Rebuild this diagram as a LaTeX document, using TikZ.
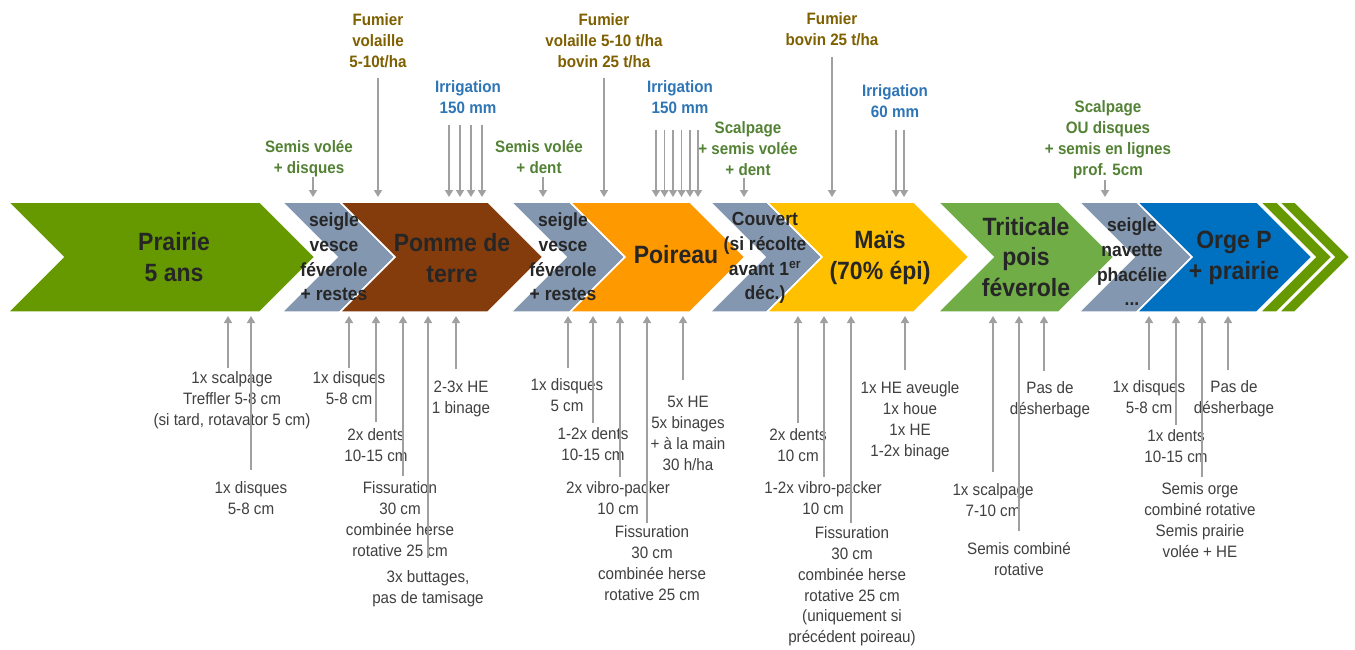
\documentclass[tikz,border=0pt]{standalone}
\usepackage{fontspec}
\setmainfont{Liberation Sans}[FakeStretch=0.92]
\usetikzlibrary{arrows.meta}
\definecolor{cPra}{HTML}{669900}
\definecolor{cGry}{HTML}{8497B0}
\definecolor{cBrn}{HTML}{843C0C}
\definecolor{cOrg}{HTML}{FF9900}
\definecolor{cYel}{HTML}{FFC000}
\definecolor{cTri}{HTML}{70AD47}
\definecolor{cBlu}{HTML}{0070C0}
\definecolor{cFum}{HTML}{7F6000}
\definecolor{cIrr}{HTML}{2E75B6}
\definecolor{cSem}{HTML}{548235}
\definecolor{cTxt}{HTML}{262626}
\definecolor{cLab}{HTML}{404040}
\definecolor{cArr}{HTML}{A0A0A0}
\tikzset{
  arr/.style={draw=cArr, line width=1.5pt, -{Triangle[width=8pt,length=7pt]}},
  lab/.style={align=center, inner sep=0pt, anchor=north, text=cLab, font=\fontsize{16.5}{20.8}\selectfont},
  toplab/.style={align=center, inner sep=0pt, anchor=north, font=\bfseries\fontsize{16.5}{20.8}\selectfont},
  big/.style={align=center, inner sep=0pt, text=cTxt, font=\bfseries\fontsize{25}{31}\selectfont},
  mid/.style={align=center, inner sep=0pt, text=cTxt, font=\bfseries\fontsize{19}{24.7}\selectfont},
  chevbox/.style={draw=white, line width=1.5pt}
}
\newcommand\chev[3]{\path[chevbox, fill=#3] (#1,202) -- (#2,202) -- ({#2+55},257) -- (#2,312) -- (#1,312) -- ({#1+55},257) -- cycle;}
\newcommand\dnarr[3]{\coordinate (#1s) at (#2,#3); \coordinate (#1e) at (#2,197); \draw[arr] (#1s) -- (#1e);}
\newcommand\uparr[3]{\coordinate (#1s) at (#2,#3); \coordinate (#1e) at (#2,316); \draw[arr] (#1s) -- (#1e);}
\begin{document}
\begin{tikzpicture}[x=1pt,y=-1pt]
\path[fill=white] (0,0) rectangle (1355,650);
\useasboundingbox (0,0) rectangle (1355,650);
% chevrons
\chev{8}{260}{cPra}
\chev{282}{340}{cGry}
\chev{340}{488}{cBrn}
\chev{511}{570}{cGry}
\chev{570}{690}{cOrg}
\chev{710}{767}{cGry}
\chev{767}{914}{cYel}
\chev{938}{1059}{cTri}
\chev{1079}{1137}{cGry}
\chev{1137}{1257}{cBlu}
\chev{1260}{1277}{cPra}
\chev{1279}{1295}{cPra}
% chevron texts
\node[big] (pra) at (174,257.5) {Prairie\\5 ans};
\node[mid] (cv1) at (334,257) {seigle\\vesce\\féverole\\+ restes};
\node[big] (pdt) at (452,258) {Pomme de\\terre};
\node[mid] (cv2) at (563,257) {seigle\\vesce\\féverole\\+ restes};
\node[big] (poi) at (676,255) {Poireau};
\node[mid] (cv3) at (765,258) {Couvert\\(si récolte\\avant 1\textsuperscript{er}\\déc.)};
\node[big] (mai) at (880,258) {Maïs\\(70\% épi)};
\node[big, font=\bfseries\fontsize{25}{30.5}\selectfont] (tri) at (1026,257) {Triticale\\pois\\féverole};
\node[mid] (cv4) at (1132,262) {seigle\\navette\\phacélie\\...};
\node[big] (org) at (1234,258) {Orge P\\+ prairie};
% top labels
\node[toplab, text=cFum] (t1) at (378,11) {\strut Fumier\\volaille\\5-10t/ha};
\node[toplab, text=cIrr] (t2) at (468,78) {\strut Irrigation\\150 mm};
\node[toplab, text=cSem] (t3) at (309,138) {\strut Semis volée\\+ disques};
\node[toplab, text=cSem] (t4) at (539,138) {\strut Semis volée\\+ dent};
\node[toplab, text=cFum] (t5) at (604,11) {\strut Fumier\\volaille 5-10 t/ha\\bovin 25 t/ha};
\node[toplab, text=cIrr] (t6) at (680,78) {\strut Irrigation\\150 mm};
\node[toplab, text=cSem] (t7) at (748,119) {\strut Scalpage\\+ semis volée\\+ dent};
\node[toplab, text=cFum] (t8) at (832,10) {\strut Fumier\\bovin 25 t/ha};
\node[toplab, text=cIrr] (t9) at (895,82) {\strut Irrigation\\60 mm};
\node[toplab, text=cSem] (t10) at (1108,98) {\strut Scalpage\\OU disques\\+ semis en lignes\\prof. 5cm};
% top arrows
\dnarr{a1}{313}{177}
\dnarr{a2}{378}{78}
\dnarr{a3}{449}{125}
\dnarr{a4}{460}{125}
\dnarr{a5}{471}{125}
\dnarr{a6}{482}{125}
\dnarr{a7}{543}{177}
\dnarr{a8}{604}{78}
\dnarr{a9}{656}{130}
\dnarr{a10}{664.5}{130}
\dnarr{a11}{673}{130}
\dnarr{a12}{681.5}{130}
\dnarr{a13}{690}{130}
\dnarr{a14}{698}{130}
\dnarr{a15}{744}{178}
\dnarr{a16}{832}{57}
\dnarr{a17}{896}{130}
\dnarr{a18}{904}{130}
\dnarr{a19}{1105}{180}
% bottom labels
\node[lab] (b1) at (232,369) {\strut 1x scalpage\\Treffler 5-8 cm\\(si tard, rotavator 5 cm)};
\node[lab] (b2) at (251,479) {\strut 1x disques\\5-8 cm};
\node[lab] (b3) at (349,369) {\strut 1x disques\\5-8 cm};
\node[lab] (b4) at (376,426) {\strut 2x dents\\10-15 cm};
\node[lab] (b5) at (400,479) {\strut Fissuration\\30 cm\\combinée herse\\rotative 25 cm};
\node[lab] (b6) at (428,568) {\strut 3x buttages,\\pas de tamisage};
\node[lab] (b7) at (461,378) {\strut 2-3x HE\\1 binage};
\node[lab] (b8) at (567,376) {\strut 1x disques\\5 cm};
\node[lab] (b9) at (593,425) {\strut 1-2x dents\\10-15 cm};
\node[lab] (b10) at (618,479) {\strut 2x vibro-packer\\10 cm};
\node[lab] (b11) at (652,523) {\strut Fissuration\\30 cm\\combinée herse\\rotative 25 cm};
\node[lab] (b12) at (688,393) {\strut 5x HE\\5x binages\\+ à la main\\30 h/ha};
\node[lab] (b13) at (798,426) {\strut 2x dents\\10 cm};
\node[lab] (b14) at (823,479) {\strut 1-2x vibro-packer\\10 cm};
\node[lab] (b15) at (852,524) {\strut Fissuration\\30 cm\\combinée herse\\rotative 25 cm\\(uniquement si\\précédent poireau)};
\node[lab] (b16) at (910,379) {\strut 1x HE aveugle\\1x houe\\1x HE\\1-2x binage};
\node[lab] (b17) at (993,481) {\strut 1x scalpage\\7-10 cm};
\node[lab] (b18) at (1019,540) {\strut Semis combiné\\rotative};
\node[lab] (b19) at (1050,379) {\strut Pas de\\désherbage};
\node[lab] (b20) at (1149,378) {\strut 1x disques\\5-8 cm};
\node[lab] (b21) at (1176,427) {\strut 1x dents\\10-15 cm};
\node[lab] (b22) at (1200,480) {\strut Semis orge\\combiné rotative\\Semis prairie\\volée + HE};
\node[lab] (b23) at (1234,378) {\strut Pas de\\désherbage};
% bottom arrows
\uparr{u1}{228}{368}
\uparr{u2}{251}{470}
\uparr{u3}{349}{368}
\uparr{u4}{376}{422}
\uparr{u5}{403}{476}
\uparr{u6}{428}{558}
\uparr{u7}{456}{369}
\uparr{u8}{568}{368}
\uparr{u9}{593}{423}
\uparr{u10}{620}{477}
\uparr{u11}{647}{523}
\uparr{u12}{683}{380}
\uparr{u13}{798}{423}
\uparr{u14}{824}{477}
\uparr{u15}{851}{523}
\uparr{u16}{905}{370}
\uparr{u17}{993}{472}
\uparr{u18}{1019}{531}
\uparr{u19}{1044}{371}
\uparr{u20}{1149}{370}
\uparr{u21}{1176}{425}
\uparr{u22}{1202}{477}
\uparr{u23}{1228}{370}
\end{tikzpicture}
\end{document}
